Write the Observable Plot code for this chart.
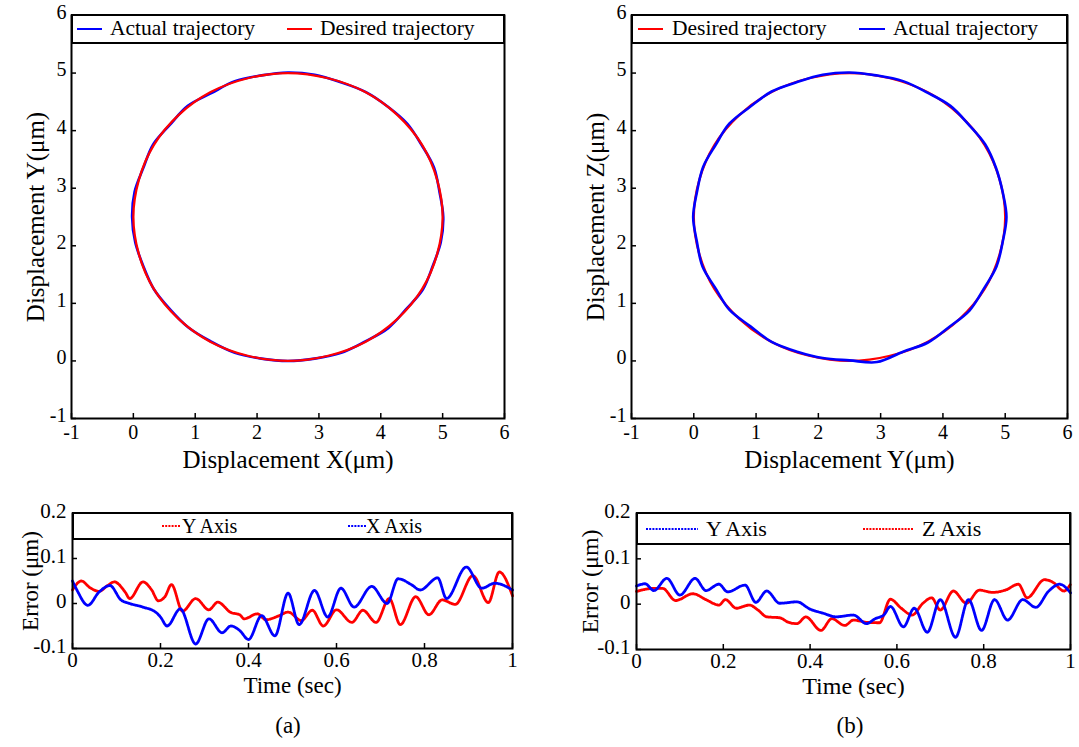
<!DOCTYPE html>
<html>
<head>
<meta charset="utf-8">
<script src="https://cdn.jsdelivr.net/npm/d3@7"></script>
<script src="https://cdn.jsdelivr.net/npm/@observablehq/plot@0.6"></script>
<style>
  html, body { margin: 0; padding: 0; background: white; }
  #page { position: relative; width: 1079px; height: 747px; overflow: hidden; background: white;
          font-family: 'Liberation Serif', 'Times New Roman', serif; color: black; }
  .panel { position: absolute; overflow: hidden; }
  .legend { position: absolute; box-sizing: border-box; border: 2px solid black; background: white; z-index: 5; }
  .legend span { position: absolute; top: 50%; transform: translateY(-50%); white-space: nowrap; line-height: 1; }
  .legend svg { position: absolute; top: 50%; transform: translateY(-50%); overflow: visible; }
  .caption { position: absolute; font-size: 23px; transform: translateX(-50%); }
</style>
</head>
<body>
<div id="page"></div>
<script>
// ---------- tick labels ----------
const circleTicks = [-1, 0, 1, 2, 3, 4, 5, 6];
const timeTicks = [0, 0.2, 0.4, 0.6, 0.8, 1];
const errTicks = [-0.1, 0, 0.1, 0.2];

// ---------- (a) trajectories: X–Y plane ----------
const aActualX = [5.01,4.95,4.86,4.66,4.43,4.11,3.76,3.35,2.93,2.50,2.07,1.64,1.26,0.88,0.59,0.32,0.16,0.02,-0.02,0.03,0.16,0.33,0.59,0.89,1.25,1.64,2.07,2.50,2.93,3.36,3.75,4.12,4.41,4.68,4.84,4.97];
const aActualY = [2.50,2.93,3.36,3.75,4.12,4.42,4.67,4.84,4.97,5.01,4.96,4.86,4.65,4.43,4.10,3.76,3.35,2.94,2.50,2.06,1.65,1.25,0.90,0.58,0.34,0.14,0.04,0.00,0.04,0.14,0.34,0.57,0.90,1.24,1.65,2.06];
const aDesiredX = [5.00,4.91,4.67,4.27,3.75,3.15,2.50,1.85,1.25,0.73,0.33,0.09,0.00,0.09,0.33,0.73,1.25,1.85,2.50,3.15,3.75,4.27,4.67,4.91];
const aDesiredY = [2.50,3.15,3.75,4.27,4.67,4.91,5.00,4.91,4.67,4.27,3.75,3.15,2.50,1.85,1.25,0.73,0.33,0.09,0.00,0.09,0.33,0.73,1.25,1.85];

// ---------- (b) trajectories: Y–Z plane ----------
const bActualY = [5.02,4.96,4.85,4.68,4.41,4.12,3.75,3.36,2.93,2.50,2.07,1.65,1.25,0.90,0.57,0.35,0.15,0.05,-0.01,0.05,0.14,0.35,0.57,0.91,1.25,1.66,2.07,2.50,2.94,3.36,3.76,4.10,4.43,4.66,4.86,4.96];
const bActualZ = [2.50,2.93,3.36,3.76,4.11,4.43,4.66,4.86,4.96,5.01,4.97,4.84,4.68,4.41,4.12,3.75,3.37,2.93,2.50,2.07,1.64,1.26,0.89,0.60,0.33,0.16,0.05,0.01,-0.02,0.16,0.32,0.59,0.88,1.26,1.64,2.07];
const bDesiredY = [5.00,4.91,4.67,4.27,3.75,3.15,2.50,1.85,1.25,0.73,0.33,0.09,0.00,0.09,0.33,0.73,1.25,1.85,2.50,3.15,3.75,4.27,4.67,4.91];
const bDesiredZ = [2.50,3.15,3.75,4.27,4.67,4.91,5.00,4.91,4.67,4.27,3.75,3.15,2.50,1.85,1.25,0.73,0.33,0.09,0.00,0.09,0.33,0.73,1.25,1.85];

// ---------- (a) errors ----------
const aYTime = [0,0.02,0.04,0.06,0.08,0.095,0.12,0.13,0.16,0.18,0.195,0.21,0.225,0.25,0.28,0.31,0.33,0.36,0.38,0.39,0.42,0.44,0.47,0.49,0.52,0.545,0.57,0.60,0.635,0.66,0.69,0.72,0.745,0.78,0.81,0.84,0.87,0.91,0.945,0.97,1.0];
const aYErr  = [0.03,0.05,0.035,0.027,0.04,0.048,0.025,0.011,0.048,0.03,0.006,0.015,0.042,-0.017,0.011,-0.014,0.003,-0.02,-0.025,-0.034,-0.023,-0.036,-0.027,-0.019,-0.038,-0.015,-0.05,-0.014,-0.042,-0.015,-0.042,0.011,-0.047,0.015,-0.025,0.008,-0.002,0.062,0.002,0.07,0.017];
const aXTime = [0,0.01,0.035,0.06,0.085,0.11,0.13,0.16,0.19,0.20,0.215,0.245,0.28,0.31,0.34,0.36,0.38,0.40,0.43,0.46,0.49,0.515,0.55,0.58,0.61,0.64,0.68,0.715,0.74,0.77,0.79,0.83,0.85,0.895,0.93,0.96,1.0];
const aXErr  = [0.05,0.03,-0.004,0.025,0.04,0.008,0.0,-0.008,-0.02,-0.03,-0.05,-0.012,-0.09,-0.034,-0.065,-0.05,-0.06,-0.08,-0.027,-0.072,0.023,-0.047,0.029,-0.03,0.034,-0.008,0.038,0.0,0.055,0.042,0.03,0.057,0.011,0.081,0.034,0.045,0.03];

// ---------- (b) errors ----------
const bYTime = [0,0.02,0.04,0.07,0.10,0.135,0.16,0.19,0.21,0.25,0.275,0.30,0.33,0.37,0.40,0.43,0.46,0.50,0.53,0.55,0.57,0.585,0.615,0.64,0.67,0.70,0.735,0.765,0.795,0.825,0.855,0.89,0.92,0.95,0.975,1.0];
const bYErr  = [0.04,0.045,0.03,0.057,0.02,0.057,0.03,0.044,0.027,0.042,0.004,0.029,0.002,0.005,-0.011,-0.02,-0.028,-0.024,-0.043,-0.032,-0.024,-0.005,-0.05,-0.009,-0.062,0.01,-0.073,0.01,-0.058,0.01,-0.035,0.01,-0.007,0.029,0.044,0.025];
const bZTime = [0,0.04,0.06,0.09,0.13,0.16,0.19,0.205,0.23,0.26,0.28,0.30,0.33,0.35,0.37,0.39,0.425,0.45,0.48,0.50,0.53,0.56,0.585,0.61,0.635,0.66,0.68,0.70,0.73,0.76,0.79,0.82,0.85,0.88,0.90,0.94,0.96,0.985,1.0];
const bZErr  = [0.028,0.035,0.035,0.008,0.023,0.01,-0.002,0.01,-0.009,-0.002,-0.013,-0.028,-0.03,-0.04,-0.043,-0.028,-0.058,-0.032,-0.047,-0.035,-0.04,-0.041,0.011,-0.009,-0.024,0.002,0.014,-0.013,0.029,0.002,0.031,0.026,0.031,0.044,0.014,0.054,0.048,0.029,0.044];

const BLUE = "#0000ff", RED = "#ff0000";
const FONT = "'Liberation Serif', 'Times New Roman', serif";
const page = document.getElementById("page");
const zip = (xs, ys) => xs.map((x, i) => ({x, y: ys[i]}));
const fmt = d => String(d);

function addPanel(el, left, top, w, h) {
  const div = document.createElement("div");
  div.className = "panel";
  Object.assign(div.style, {left: left + "px", top: top + "px", width: w + "px", height: h + "px"});
  div.appendChild(el);
  page.appendChild(div);
}

function addLegend(left, top, w, h, items) {
  const box = document.createElement("div");
  box.className = "legend";
  Object.assign(box.style, {left: left + "px", top: top + "px", width: w + "px", height: h + "px"});
  for (const it of items) {
    const svg = document.createElementNS("http://www.w3.org/2000/svg", "svg");
    svg.setAttribute("width", it.lineW);
    svg.setAttribute("height", 4);
    svg.style.left = it.lineX + "px";
    const ln = document.createElementNS("http://www.w3.org/2000/svg", "line");
    ln.setAttribute("x1", 0); ln.setAttribute("x2", it.lineW);
    ln.setAttribute("y1", 2); ln.setAttribute("y2", 2);
    ln.setAttribute("stroke", it.color);
    ln.setAttribute("stroke-width", it.dash ? 2.2 : 2);
    if (it.dash) ln.setAttribute("stroke-dasharray", it.dash);
    svg.appendChild(ln);
    box.appendChild(svg);
    const sp = document.createElement("span");
    sp.textContent = it.label;
    sp.style.left = it.textX + "px";
    sp.style.fontSize = it.fontSize + "px";
    box.appendChild(sp);
  }
  page.appendChild(box);
}

function circlePlot({act, des, actualOnTop, width, marginLeft, marginRight, xLabel, yLabel}) {
  const height = 480, marginTop = 15, marginBottom = 62;
  const innerH = height - marginTop - marginBottom, innerW = width - marginLeft - marginRight;
  const actLine = Plot.line(act, {x: "x", y: "y", stroke: BLUE, strokeWidth: 2.6, curve: "catmull-rom-closed"});
  const desLine = Plot.line(des, {x: "x", y: "y", stroke: RED, strokeWidth: 2.3, curve: "catmull-rom-closed"});
  return Plot.plot({
    width, height, marginTop, marginBottom, marginLeft, marginRight,
    style: {fontFamily: FONT, color: "black", background: "white", overflow: "visible"},
    x: {domain: [-1, 6]},
    y: {domain: [-1, 6]},
    marks: [
      Plot.axisX({ticks: circleTicks, tickSize: 0, tickPadding: 6, fontSize: 20, tickFormat: fmt, label: null}),
      Plot.axisY({ticks: circleTicks, tickSize: 0, tickPadding: 5, dy: -3, fontSize: 20, tickFormat: fmt, label: null}),
      Plot.tickX(circleTicks, {x: d => d, insetTop: innerH - 5, strokeWidth: 1.5}),
      Plot.tickY(circleTicks, {y: d => d, insetRight: innerW - 5, strokeWidth: 1.5}),
      ...(actualOnTop ? [desLine, actLine] : [actLine, desLine]),
      Plot.frame({strokeWidth: 2}),
      Plot.text([xLabel], {text: d => d, frameAnchor: "bottom", dy: 41, fontSize: 25, lineAnchor: "middle", textAnchor: "middle"}),
      Plot.text([yLabel], {text: d => d, frameAnchor: "left", dx: -36, rotate: -90, fontSize: 25, lineAnchor: "middle", textAnchor: "middle"})
    ]
  });
}

function errorPlot({series, width, marginLeft, marginRight, marginTop, marginBottom, height, yLabelDx, fontLabel}) {
  const innerH = height - marginTop - marginBottom, innerW = width - marginLeft - marginRight;
  return Plot.plot({
    width, height, marginTop, marginBottom, marginLeft, marginRight,
    style: {fontFamily: FONT, color: "black", background: "white", overflow: "visible"},
    x: {domain: [0, 1]},
    y: {domain: [-0.1, 0.2]},
    marks: [
      Plot.axisX({ticks: timeTicks, tickSize: 0, tickPadding: 4, fontSize: 21, tickFormat: fmt, label: null}),
      Plot.axisY({ticks: errTicks, tickSize: 0, tickPadding: 6, dy: -2, fontSize: 21, tickFormat: fmt, label: null}),
      Plot.tickX(timeTicks, {x: d => d, insetTop: innerH - 5, strokeWidth: 1.5}),
      Plot.tickY(errTicks, {y: d => d, insetRight: innerW - 5, strokeWidth: 1.5}),
      ...series.map(s => Plot.line(zip(s.t, s.v), {x: "x", y: "y", stroke: s.color, strokeWidth: 2.8,
        strokeDasharray: "1.6,0.8", curve: "monotone-x"})),
      Plot.frame({strokeWidth: 2}),
      Plot.text(["Time (sec)"], {text: d => d, frameAnchor: "bottom", dy: 37, fontSize: fontLabel, lineAnchor: "middle", textAnchor: "middle"}),
      Plot.text(["Error (μm)"], {text: d => d, frameAnchor: "left", dx: yLabelDx, rotate: -90, fontSize: fontLabel, lineAnchor: "middle", textAnchor: "middle"})
    ]
  });
}

// ---- (a) top ----
addPanel(circlePlot({
  act: zip(aActualX, aActualY), des: zip(aDesiredX, aDesiredY), actualOnTop: false,
  width: 540, marginLeft: 71, marginRight: 36,
  xLabel: "Displacement X(μm)", yLabel: "Displacement Y(μm)"
}), 0, 0, 540, 480);
addLegend(71, 14, 434, 30, [
  {color: BLUE, lineX: 4, lineW: 25, textX: 37, label: "Actual trajectory", fontSize: 21.5},
  {color: RED, lineX: 214, lineW: 25, textX: 247, label: "Desired trajectory", fontSize: 21.5}
]);

// ---- (b) top ----
addPanel(circlePlot({
  act: zip(bActualY, bActualZ), des: zip(bDesiredY, bDesiredZ), actualOnTop: true,
  width: 519, marginLeft: 71, marginRight: 12,
  xLabel: "Displacement Y(μm)", yLabel: "Displacement Z(μm)"
}), 560, 0, 519, 480);
addLegend(631, 14, 437, 30, [
  {color: RED, lineX: 5, lineW: 25, textX: 39, label: "Desired trajectory", fontSize: 21.5},
  {color: BLUE, lineX: 226, lineW: 26, textX: 260, label: "Actual trajectory", fontSize: 21.5}
]);

// ---- (a) bottom ----
addPanel(errorPlot({
  series: [
    {t: aYTime, v: aYErr, color: RED},
    {t: aXTime, v: aXErr, color: BLUE}
  ],
  width: 540, height: 208, marginLeft: 72, marginRight: 28, marginTop: 23, marginBottom: 50, yLabelDx: -42, fontLabel: 23
}), 0, 490, 540, 208);
addLegend(72, 512, 441, 28, [
  {color: RED, dash: "2,1.2", lineX: 88, lineW: 18, textX: 108, label: "Y Axis", fontSize: 20},
  {color: BLUE, dash: "2,1.2", lineX: 274, lineW: 18, textX: 292, label: "X Axis", fontSize: 20}
]);

// ---- (b) bottom ----
addPanel(errorPlot({
  series: [
    {t: bZTime, v: bZErr, color: RED},
    {t: bYTime, v: bYErr, color: BLUE}
  ],
  width: 519, height: 208, marginLeft: 76, marginRight: 9, marginTop: 23, marginBottom: 49, yLabelDx: -46, fontLabel: 24
}), 560, 490, 519, 208);
addLegend(636, 512, 435, 33, [
  {color: BLUE, dash: "2,1.2", lineX: 8, lineW: 52, textX: 68, label: "Y Axis", fontSize: 22},
  {color: RED, dash: "2,1.2", lineX: 225, lineW: 50, textX: 284, label: "Z Axis", fontSize: 22}
]);

// ---- captions ----
for (const [label, x] of [["(a)", 288], ["(b)", 850]]) {
  const c = document.createElement("div");
  c.className = "caption";
  c.textContent = label;
  c.style.left = x + "px";
  c.style.top = "713px";
  page.appendChild(c);
}
</script>
</body>
</html>
